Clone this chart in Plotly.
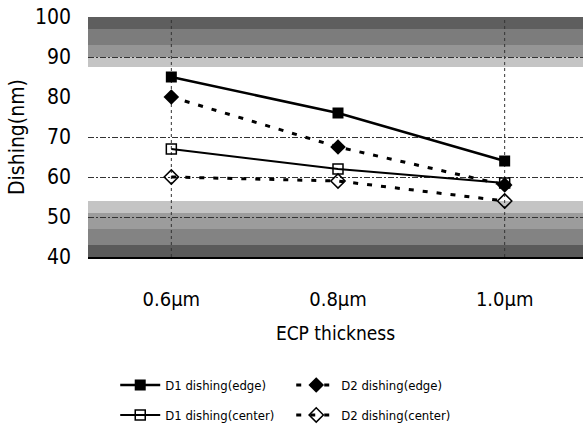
import plotly.graph_objects as go

categories = ["0.6μm", "0.8μm", "1.0μm"]
d1_edge = [85, 76, 64]
d2_edge = [80, 67.5, 58]
d1_center = [67, 62, 58.5]
d2_center = [60, 59, 54]
y_ticks = [40, 50, 60, 70, 80, 90, 100]
grid_lines = [50, 60, 70, 90]

FONT = "Liberation Sans Narrow, Arial Narrow, DejaVu Sans Condensed, Liberation Sans, Arial, sans-serif"

fig = go.Figure()
fig.add_trace(go.Scatter(x=categories, y=d1_edge, name="D1 dishing(edge)", mode="lines+markers",
                         legend="legend",
                         line=dict(color="black", width=2.5),
                         marker=dict(symbol="square", size=11, color="black")))
fig.add_trace(go.Scatter(x=categories, y=d2_edge, name="D2 dishing(edge)", mode="lines+markers",
                         legend="legend",
                         line=dict(color="black", width=3, dash="5px,9px"),
                         marker=dict(symbol="diamond", size=12, color="black")))
fig.add_trace(go.Scatter(x=categories, y=d1_center, name="D1 dishing(center)", mode="lines+markers",
                         legend="legend2",
                         line=dict(color="black", width=2),
                         marker=dict(symbol="square-open", size=10, color="black", line=dict(width=1.5))))
fig.add_trace(go.Scatter(x=categories, y=d2_center, name="D2 dishing(center)", mode="lines+markers",
                         legend="legend2",
                         line=dict(color="black", width=3, dash="5px,9px"),
                         marker=dict(symbol="diamond-open", size=11, color="black", line=dict(width=1.5))))

# gray background bands (top and bottom)
bands = [
    (97, 100, "#5e5e5e"), (93, 97, "#7c7c7c"), (90, 93, "#959595"), (87.5, 90, "#c4c4c4"),
    (51, 54, "#c4c4c4"), (47, 51, "#9c9c9c"), (43, 47, "#838383"), (40, 43, "#5a5a5a"),
]
shapes = []
for y0, y1, c in bands:
    shapes.append(dict(type="rect", xref="paper", yref="y", x0=0, x1=1, y0=y0, y1=y1,
                       fillcolor=c, line=dict(width=0), layer="below"))
for xi in [0, 2]:
    shapes.append(dict(type="line", xref="x", yref="y", x0=xi, x1=xi, y0=40, y1=100,
                       line=dict(color="#333", width=1, dash="dot"), layer="below"))

legend_common = dict(orientation="h", xanchor="left", yanchor="top",
                     entrywidth=121, entrywidthmode="pixels", font=dict(size=13),
                     itemwidth=40, bgcolor="rgba(0,0,0,0)")

fig.update_layout(
    width=583, height=440,
    margin=dict(l=88, r=0, t=17, b=183, autoexpand=False),
    plot_bgcolor="white", paper_bgcolor="white",
    font=dict(family=FONT, color="black", size=15),
    shapes=shapes,
    xaxis=dict(type="category", range=[-0.5, 2.47], showgrid=False,
               showline=True, linecolor="black", linewidth=2,
               ticks="", tickfont=dict(size=20), ticklabelstandoff=23,
               title=dict(text="ECP thickness", font=dict(size=19), standoff=17)),
    yaxis=dict(range=[40, 100], tickvals=y_ticks, showgrid=False,
               minor=dict(tickvals=grid_lines, showgrid=True, gridcolor="#333",
                          griddash="6px,2px,2px,2px", gridwidth=1, ticks=""),
               zeroline=False, showline=False,
               tickfont=dict(size=21), ticks="", ticklabelstandoff=16,
               title=dict(text="Dishing(nm)", font=dict(size=21), standoff=4)),
    legend=dict(x=0.055, y=-0.471, **legend_common),
    legend2=dict(x=0.055, y=-0.596, **legend_common),
    showlegend=True,
)
fig.write_html("out.html", config={"displayModeBar": False},
               post_script="document.body.style.margin='0';document.body.style.overflow='hidden';")
